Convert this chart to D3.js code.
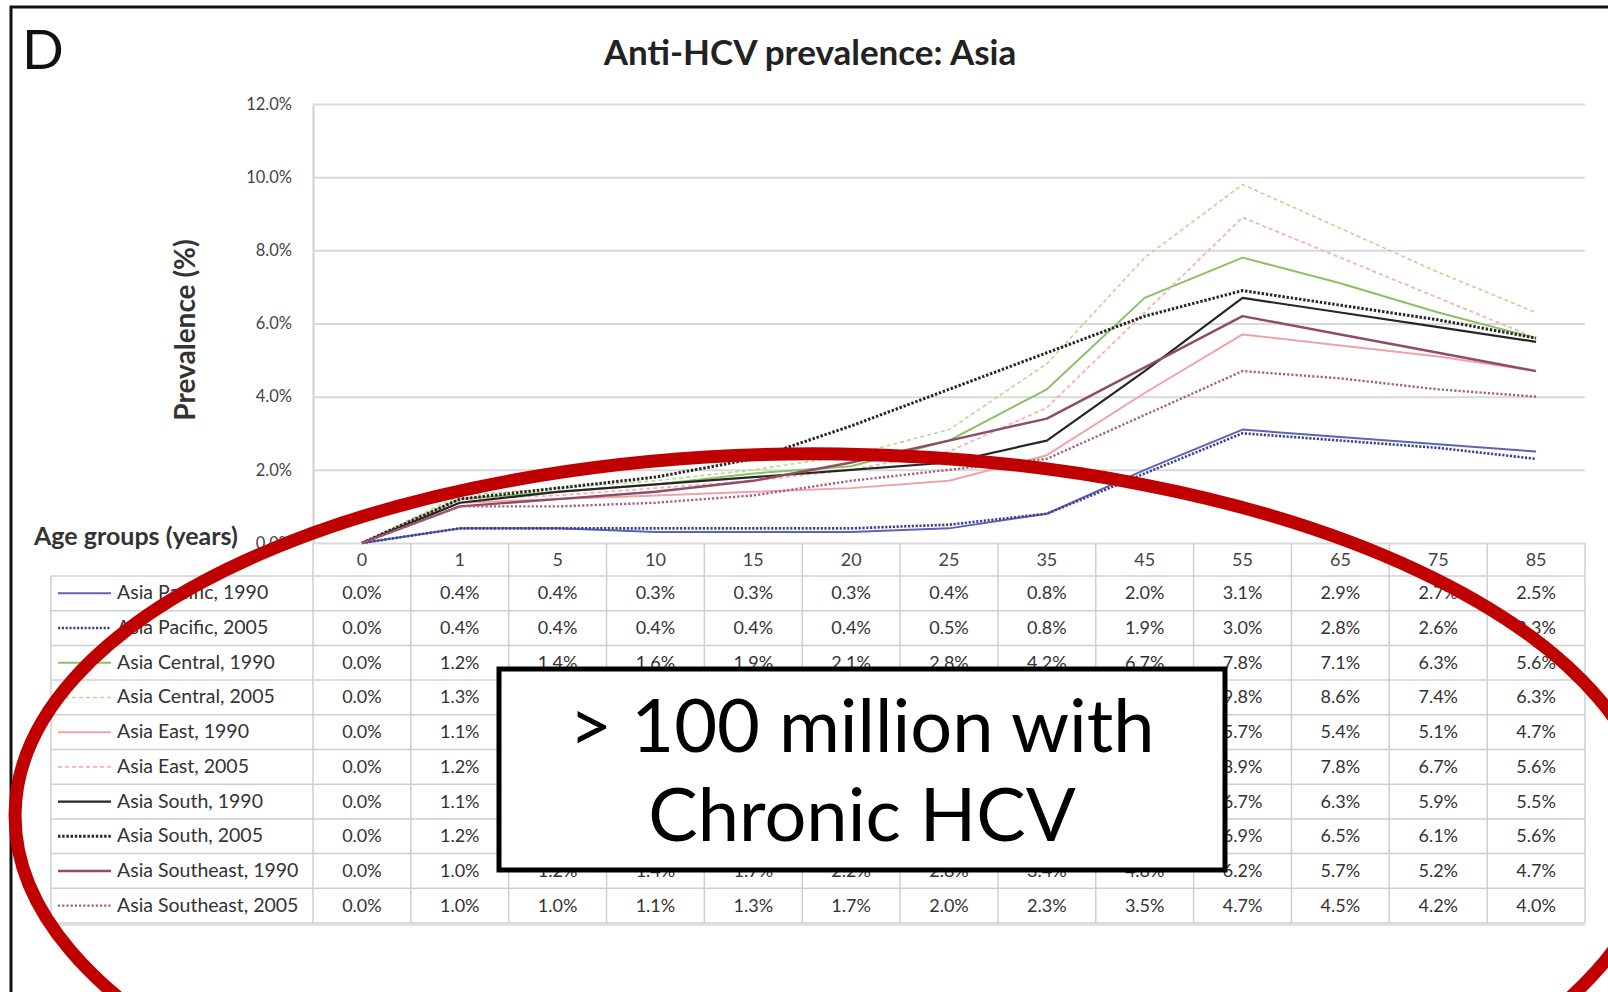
<!DOCTYPE html>
<html>
<head>
<meta charset="utf-8">
<script src="https://cdn.jsdelivr.net/npm/d3@7"></script>
<style>
  html, body { margin: 0; padding: 0; background: #fff; }
  svg { display: block; }
  text { font-family: Lato, "Open Sans", sans-serif; }
</style>
</head>
<body>
<script>
// Age groups on the category axis and in the table header
const ageGroups = ["0", "1", "5", "10", "15", "20", "25", "35", "45", "55", "65", "75", "85"];
// Y-axis tick values (percent)
const yTicks = [0, 2, 4, 6, 8, 10, 12];

// Series names, in legend/table order
const seriesNames = [
  "Asia Pacific, 1990", "Asia Pacific, 2005",
  "Asia Central, 1990", "Asia Central, 2005",
  "Asia East, 1990", "Asia East, 2005",
  "Asia South, 1990", "Asia South, 2005",
  "Asia Southeast, 1990", "Asia Southeast, 2005"
];

// Anti-HCV prevalence (%) per age group
const pacific1990   = [0.0, 0.4, 0.4, 0.3, 0.3, 0.3, 0.4, 0.8, 2.0, 3.1, 2.9, 2.7, 2.5];
const pacific2005   = [0.0, 0.4, 0.4, 0.4, 0.4, 0.4, 0.5, 0.8, 1.9, 3.0, 2.8, 2.6, 2.3];
const central1990   = [0.0, 1.2, 1.4, 1.6, 1.9, 2.1, 2.8, 4.2, 6.7, 7.8, 7.1, 6.3, 5.6];
const central2005   = [0.0, 1.3, 1.5, 1.7, 2.0, 2.4, 3.1, 4.9, 7.8, 9.8, 8.6, 7.4, 6.3];
const east1990      = [0.0, 1.1, 1.2, 1.3, 1.4, 1.5, 1.7, 2.4, 4.1, 5.7, 5.4, 5.1, 4.7];
const east2005      = [0.0, 1.2, 1.3, 1.5, 1.7, 2.0, 2.5, 3.7, 6.3, 8.9, 7.8, 6.7, 5.6];
const south1990     = [0.0, 1.1, 1.4, 1.6, 1.8, 2.0, 2.2, 2.8, 4.7, 6.7, 6.3, 5.9, 5.5];
const south2005     = [0.0, 1.2, 1.5, 1.8, 2.3, 3.2, 4.2, 5.2, 6.2, 6.9, 6.5, 6.1, 5.6];
const southeast1990 = [0.0, 1.0, 1.2, 1.4, 1.7, 2.2, 2.8, 3.4, 4.8, 6.2, 5.7, 5.2, 4.7];
const southeast2005 = [0.0, 1.0, 1.0, 1.1, 1.3, 1.7, 2.0, 2.3, 3.5, 4.7, 4.5, 4.2, 4.0];

const seriesValues = [pacific1990, pacific2005, central1990, central2005, east1990,
                      east2005, south1990, south2005, southeast1990, southeast2005];

// Line styling per series
const seriesColors = ["#5f63b4", "#3a4290", "#8cc063", "#b9d98c", "#f0a3a3",
                      "#f2b3ae", "#262626", "#262626", "#8e4d62", "#a4607c"];
const seriesDash   = [null, "2.2,1.6", null, "4,3", null, "4,3", null, "2.4,1.8", null, "2.2,2"];
const seriesWidth  = [2, 2.6, 2, 1.6, 2, 1.8, 2.2, 3, 2.4, 2.4];

const series = seriesNames.map((name, i) => ({
  name, values: seriesValues[i], color: seriesColors[i], dash: seriesDash[i], width: seriesWidth[i]
}));

const W = 1608, H = 992;
const plotLeft = 313, plotRight = 1585, plotTop = 104, plotBottom = 543;
const rowH = 34.7, tableTop = 576, legendLeft = 51;
// callout box geometry
const box = { x: 499, y: 669, w: 726, h: 201 };

const svg = d3.select("body").append("svg").attr("width", W).attr("height", H);
svg.append("rect").attr("width", W).attr("height", H).attr("fill", "#fff");

// figure frame (top and left edges)
svg.append("path").attr("d", `M11,${H} L11,7 L${W},7`)
  .attr("fill", "none").attr("stroke", "#111").attr("stroke-width", 3);

// panel letter and title
svg.append("text").attr("x", 22).attr("y", 69).attr("font-size", 55)
  .attr("fill", "#111").text("D");
svg.append("text").attr("x", 810).attr("y", 65).attr("text-anchor", "middle")
  .attr("font-size", 35).attr("font-weight", 700).attr("fill", "#222")
  .text("Anti-HCV prevalence: Asia");

const x = d3.scaleBand().domain(ageGroups).range([plotLeft, plotRight]).padding(0);
const y = d3.scaleLinear().domain([0, 12]).range([plotBottom, plotTop]);
const cx = g => x(g) + x.bandwidth() / 2;

// y axis with gridlines
const yAxis = svg.append("g").attr("transform", `translate(${plotLeft},0)`)
  .call(d3.axisLeft(y).tickValues(yTicks).tickSize(-(plotRight - plotLeft)).tickSizeOuter(0)
    .tickPadding(21).tickFormat(d => d.toFixed(1) + "%"));
yAxis.select(".domain").attr("stroke", "#d0d0d0").attr("stroke-width", 2);
yAxis.selectAll(".tick line").attr("stroke", "#d9d9d9").attr("stroke-width", 2);
yAxis.selectAll(".tick text").attr("font-family", "Lato, sans-serif")
  .attr("font-size", 16.5).attr("fill", "#444");

svg.append("text")
  .attr("transform", "translate(195,330) rotate(-90)")
  .attr("text-anchor", "middle").attr("font-size", 28).attr("font-weight", 700)
  .attr("fill", "#333").text("Prevalence (%)");

// table header: age groups
const xAxis = svg.append("g").attr("transform", `translate(0,${plotBottom})`)
  .call(d3.axisBottom(x).tickSize(0).tickPadding(10));
xAxis.select(".domain").remove();
xAxis.selectAll(".tick text").attr("font-family", "Lato, sans-serif")
  .attr("font-size", 18).attr("fill", "#444");

svg.append("text").attr("x", 34).attr("y", 545).attr("font-size", 25)
  .attr("font-weight", 700).attr("fill", "#333").text("Age groups (years)");

// table grid
const grid = svg.append("g").attr("stroke", "#cfcfcf").attr("stroke-width", 1.5);
const colEdges = ageGroups.map(g => x(g)).concat([plotRight]);
grid.selectAll(".vcol").data(colEdges).join("line")
  .attr("x1", d => d).attr("x2", d => d)
  .attr("y1", plotBottom).attr("y2", tableTop + rowH * series.length);
grid.append("line").attr("x1", legendLeft).attr("x2", legendLeft)
  .attr("y1", tableTop).attr("y2", tableTop + rowH * series.length);
grid.selectAll(".hrow").data(d3.range(series.length + 1)).join("line")
  .attr("x1", legendLeft).attr("x2", plotRight)
  .attr("y1", k => tableTop + k * rowH).attr("y2", k => tableTop + k * rowH);
svg.append("line").attr("x1", legendLeft).attr("x2", plotRight)
  .attr("y1", tableTop + rowH * series.length + 2).attr("y2", tableTop + rowH * series.length + 2)
  .attr("stroke", "#e2e2e2").attr("stroke-width", 2);

// table rows: legend key, name and values (cells lying fully under the callout are skipped)
const underBox = (px, py) => px > box.x && px < box.x + box.w && py - 8 > box.y && py + 8 < box.y + box.h;
const rows = svg.selectAll(".row").data(series).join("g")
  .attr("transform", (d, i) => `translate(0,${tableTop + rowH * i + rowH / 2})`);
rows.append("line").attr("x1", 58).attr("x2", 111).attr("y1", 0).attr("y2", 0)
  .attr("stroke", d => d.color).attr("stroke-width", d => d.width)
  .attr("stroke-dasharray", d => d.dash);
rows.append("text").attr("x", 117).attr("y", 6).attr("font-size", 19.5)
  .attr("fill", "#333").text(d => d.name);
rows.selectAll(".val")
  .data((d, i) => d.values
    .map((v, j) => ({ v, g: ageGroups[j], rowY: tableTop + rowH * i + rowH / 2 }))
    .filter(c => !underBox(cx(c.g), c.rowY)))
  .join("text").attr("x", d => cx(d.g)).attr("y", 6).attr("text-anchor", "middle")
  .attr("font-size", 18).attr("fill", "#333").text(d => d.v.toFixed(1) + "%");

// prevalence lines
const line = d3.line().x((d, j) => cx(ageGroups[j])).y(d => y(d));
svg.append("g").selectAll("path").data(series).join("path")
  .attr("d", d => line(d.values)).attr("fill", "none")
  .attr("stroke", d => d.color).attr("stroke-width", d => d.width)
  .attr("stroke-dasharray", d => d.dash).attr("stroke-linejoin", "round");

// callout box
svg.append("rect").attr("x", box.x).attr("y", box.y).attr("width", box.w).attr("height", box.h)
  .attr("fill", "#fff").attr("stroke", "#000").attr("stroke-width", 5);
const callout = svg.append("text").attr("text-anchor", "middle")
  .attr("font-family", '"Comic Sans MS", "Comic Neue", Lato, sans-serif')
  .attr("font-size", 74).attr("fill", "#000");
callout.append("tspan").attr("x", 862).attr("y", 752).text("> 100 million with");
callout.append("tspan").attr("x", 862).attr("y", 841).text("Chronic HCV");

// red highlight ellipse, slightly tilted
svg.append("ellipse").attr("cx", 835).attr("cy", 825).attr("rx", 820).attr("ry", 371)
  .attr("transform", "rotate(0.8 835 825)")
  .attr("fill", "none").attr("stroke", "#c00000").attr("stroke-width", 13);
</script>
</body>
</html>
